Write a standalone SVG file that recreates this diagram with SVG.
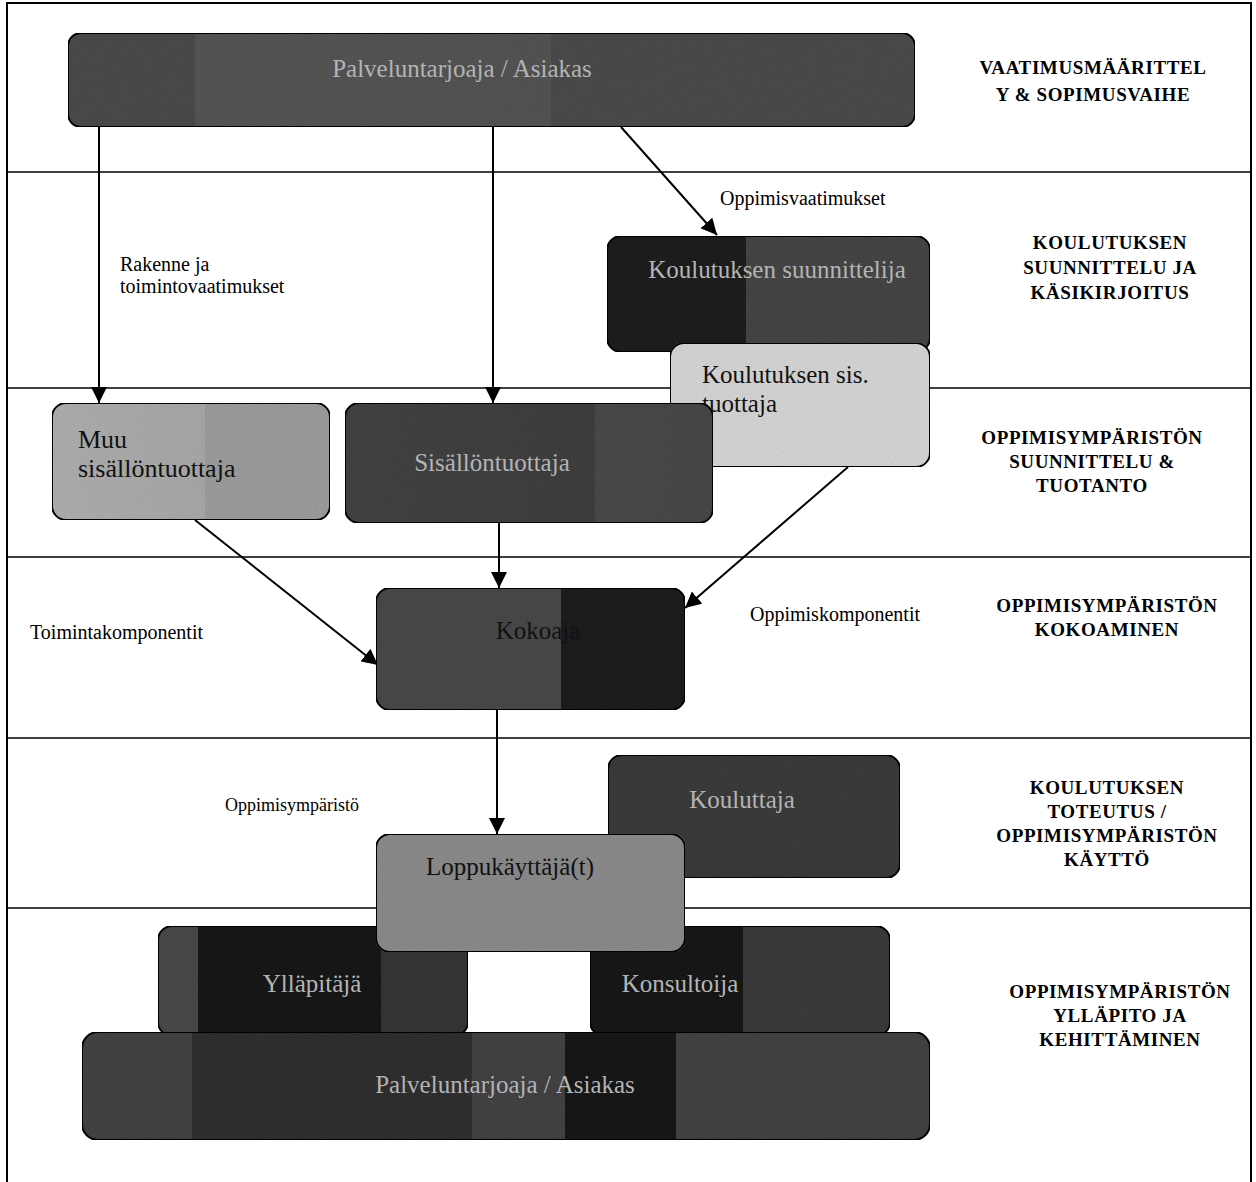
<svg xmlns="http://www.w3.org/2000/svg" width="1256" height="1182" viewBox="0 0 1256 1182">
<style>
.frame{fill:none;stroke:#000;stroke-width:2}
.div{stroke:#000;stroke-width:1.5}
.box{stroke:#000;stroke-width:2}
.lt{font-family:"Liberation Serif","Times New Roman",serif;font-size:25px;fill:#b4b4b4}
.dk{font-family:"Liberation Serif","Times New Roman",serif;font-size:25px;fill:#111}
.lbl{font-family:"Liberation Serif","Times New Roman",serif;font-size:20px;fill:#000}
.ph{font-family:"Liberation Serif","Times New Roman",serif;font-size:19px;font-weight:bold;fill:#000;text-anchor:middle;letter-spacing:0.6px}
.con{stroke:#000;stroke-width:2;fill:none;marker-end:url(#ah)}
</style>
<defs>
<marker id="ah" viewBox="0 0 10 10" refX="10" refY="5" markerWidth="8" markerHeight="8" markerUnits="strokeWidth" orient="auto">
<path d="M0,0 L10,5 L0,10 z" fill="#000"/>
</marker>
<filter id="grain" x="0" y="0" width="100%" height="100%">
<feTurbulence type="fractalNoise" baseFrequency="0.9" numOctaves="2" seed="3" result="n"/>
<feColorMatrix in="n" type="matrix" values="0 0 0 0 0.5  0 0 0 0 0.5  0 0 0 0 0.5  0 0 0 0.45 0" result="g"/>
<feComposite in="g" in2="SourceGraphic" operator="in" result="gc"/>
<feBlend in="SourceGraphic" in2="gc" mode="multiply"/>
</filter>
<linearGradient id="gTop" x1="0" x2="1" y1="0" y2="0">
<stop offset="0" stop-color="#4c4c4c"/><stop offset="0.15" stop-color="#4c4c4c"/>
<stop offset="0.15" stop-color="#575757"/><stop offset="0.57" stop-color="#555"/>
<stop offset="0.57" stop-color="#4c4c4c"/><stop offset="1" stop-color="#4c4c4c"/>
</linearGradient>
<linearGradient id="gSuun" x1="0" x2="1" y1="0" y2="0">
<stop offset="0" stop-color="#1e1e1e"/><stop offset="0.43" stop-color="#1e1e1e"/>
<stop offset="0.43" stop-color="#474747"/><stop offset="1" stop-color="#474747"/>
</linearGradient>
<linearGradient id="gMuu" x1="0" x2="1" y1="0" y2="0">
<stop offset="0" stop-color="#b2b2b2"/><stop offset="0.55" stop-color="#acacac"/>
<stop offset="0.55" stop-color="#a0a0a0"/><stop offset="1" stop-color="#a0a0a0"/>
</linearGradient>
<linearGradient id="gSis" x1="0" x2="1" y1="0" y2="0">
<stop offset="0" stop-color="#444"/><stop offset="0.68" stop-color="#404040"/>
<stop offset="0.68" stop-color="#4c4c4c"/><stop offset="1" stop-color="#484848"/>
</linearGradient>
<linearGradient id="gKok" x1="0" x2="1" y1="0" y2="0">
<stop offset="0" stop-color="#4a4a4a"/><stop offset="0.6" stop-color="#4a4a4a"/>
<stop offset="0.6" stop-color="#1c1c1c"/><stop offset="1" stop-color="#1c1c1c"/>
</linearGradient>
<linearGradient id="gYll" x1="0" x2="1" y1="0" y2="0">
<stop offset="0" stop-color="#4a4a4a"/><stop offset="0.13" stop-color="#4a4a4a"/>
<stop offset="0.13" stop-color="#1a1a1a"/><stop offset="0.72" stop-color="#1a1a1a"/>
<stop offset="0.72" stop-color="#363636"/><stop offset="1" stop-color="#363636"/>
</linearGradient>
<linearGradient id="gKon" x1="0" x2="1" y1="0" y2="0">
<stop offset="0" stop-color="#161616"/><stop offset="0.51" stop-color="#161616"/>
<stop offset="0.51" stop-color="#3c3c3c"/><stop offset="1" stop-color="#3c3c3c"/>
</linearGradient>
<linearGradient id="gBot" x1="0" x2="1" y1="0" y2="0">
<stop offset="0" stop-color="#444"/><stop offset="0.13" stop-color="#444"/>
<stop offset="0.13" stop-color="#303030"/><stop offset="0.46" stop-color="#303030"/>
<stop offset="0.46" stop-color="#444"/><stop offset="0.57" stop-color="#444"/>
<stop offset="0.57" stop-color="#1a1a1a"/><stop offset="0.7" stop-color="#1a1a1a"/>
<stop offset="0.7" stop-color="#444"/><stop offset="1" stop-color="#444"/>
</linearGradient>
</defs>
<rect width="1256" height="1182" fill="#fff"/>
<g id="frame">
<rect class="frame" x="7" y="3" width="1244" height="1185"/>
<line class="div" x1="7" y1="172" x2="1251" y2="172"/>
<line class="div" x1="7" y1="388" x2="1251" y2="388"/>
<line class="div" x1="7" y1="557" x2="1251" y2="557"/>
<line class="div" x1="7" y1="738" x2="1251" y2="738"/>
<line class="div" x1="7" y1="908" x2="1251" y2="908"/>
</g>
<g id="phases">
<text class="ph" x="1093" y="74">VAATIMUSMÄÄRITTEL</text>
<text class="ph" x="1093" y="101">Y &amp; SOPIMUSVAIHE</text>
<text class="ph" x="1110" y="249">KOULUTUKSEN</text>
<text class="ph" x="1110" y="274">SUUNNITTELU JA</text>
<text class="ph" x="1110" y="299">KÄSIKIRJOITUS</text>
<text class="ph" x="1092" y="444">OPPIMISYMPÄRISTÖN</text>
<text class="ph" x="1092" y="468">SUUNNITTELU &amp;</text>
<text class="ph" x="1092" y="492">TUOTANTO</text>
<text class="ph" x="1107" y="612">OPPIMISYMPÄRISTÖN</text>
<text class="ph" x="1107" y="636">KOKOAMINEN</text>
<text class="ph" x="1107" y="794">KOULUTUKSEN</text>
<text class="ph" x="1107" y="818">TOTEUTUS /</text>
<text class="ph" x="1107" y="842">OPPIMISYMPÄRISTÖN</text>
<text class="ph" x="1107" y="866">KÄYTTÖ</text>
<text class="ph" x="1120" y="998">OPPIMISYMPÄRISTÖN</text>
<text class="ph" x="1120" y="1022">YLLÄPITO JA</text>
<text class="ph" x="1120" y="1046">KEHITTÄMINEN</text>
</g>
<g id="connectors">
<line class="con" x1="99" y1="127" x2="99" y2="403"/>
<line class="con" x1="493" y1="127" x2="493" y2="403"/>
<line class="con" x1="621" y1="127" x2="717" y2="235"/>
<line class="con" x1="195" y1="520" x2="378" y2="665"/>
<line class="con" x1="499" y1="523" x2="499" y2="588"/>
<line class="con" x1="848" y1="467" x2="685" y2="608"/>
<line class="con" x1="497" y1="710" x2="497" y2="834"/>
</g>
<g id="edge-labels">
<text class="lbl" x="720" y="205">Oppimisvaatimukset</text>
<text class="lbl" x="120" y="271">Rakenne ja</text>
<text class="lbl" x="120" y="293">toimintovaatimukset</text>
<text class="lbl" x="30" y="639">Toimintakomponentit</text>
<text class="lbl" x="750" y="621">Oppimiskomponentit</text>
<text class="lbl" x="225" y="811" style="font-size:18px">Oppimisympäristö</text>
</g>
<g id="n-palvelu-top">
<rect class="box" x="68" y="33" width="847" height="94" rx="13" fill="url(#gTop)" filter="url(#grain)"/>
<text class="lt" x="462" y="77" text-anchor="middle">Palveluntarjoaja / Asiakas</text>
</g>
<g id="n-suunnittelija">
<rect class="box" x="607" y="236" width="323" height="116" rx="14" fill="url(#gSuun)" filter="url(#grain)"/>
<text class="lt" x="777" y="278" text-anchor="middle">Koulutuksen suunnittelija</text>
</g>
<g id="n-sis-tuottaja">
<rect class="box" x="670" y="343" width="260" height="124" rx="14" fill="#dadada" filter="url(#grain)"/>
<text class="dk" x="702" y="383">Koulutuksen sis.</text>
<text class="dk" x="702" y="412">tuottaja</text>
</g>
<g id="n-muu">
<rect class="box" x="52" y="403" width="278" height="117" rx="14" fill="url(#gMuu)" filter="url(#grain)"/>
<text class="dk" x="78" y="448" style="font-size:26px">Muu</text>
<text class="dk" x="78" y="477" style="font-size:26px">sisällöntuottaja</text>
</g>
<g id="n-sisallontuottaja">
<rect class="box" x="345" y="403" width="368" height="120" rx="14" fill="url(#gSis)" filter="url(#grain)"/>
<text class="lt" x="492" y="471" text-anchor="middle">Sisällöntuottaja</text>
</g>
<g id="n-kokoaja">
<rect class="box" x="376" y="588" width="309" height="122" rx="14" fill="url(#gKok)" filter="url(#grain)"/>
<text class="dk" x="538" y="639" text-anchor="middle" fill="#1a1a1a">Kokoaja</text>
</g>
<g id="n-kouluttaja">
<rect class="box" x="608" y="755" width="292" height="123" rx="14" fill="#3c3c3c" filter="url(#grain)"/>
<text class="lt" x="742" y="808" text-anchor="middle">Kouluttaja</text>
</g>
<g id="n-yllapitaja">
<rect class="box" x="158" y="926" width="310" height="110" rx="14" fill="url(#gYll)" filter="url(#grain)"/>
<text class="lt" x="312" y="992" text-anchor="middle">Ylläpitäjä</text>
</g>
<g id="n-konsultoija">
<rect class="box" x="590" y="926" width="300" height="110" rx="14" fill="url(#gKon)" filter="url(#grain)"/>
<text class="lt" x="680" y="992" text-anchor="middle">Konsultoija</text>
</g>
<g id="n-loppukayttaja">
<rect class="box" x="376" y="834" width="309" height="118" rx="14" fill="#8e8e8e" filter="url(#grain)"/>
<text class="dk" x="510" y="875" text-anchor="middle">Loppukäyttäjä(t)</text>
</g>
<g id="n-palvelu-bottom">
<rect class="box" x="82" y="1032" width="848" height="108" rx="16" fill="url(#gBot)" filter="url(#grain)"/>
<text class="lt" x="505" y="1093" text-anchor="middle">Palveluntarjoaja / Asiakas</text>
</g>
</svg>
